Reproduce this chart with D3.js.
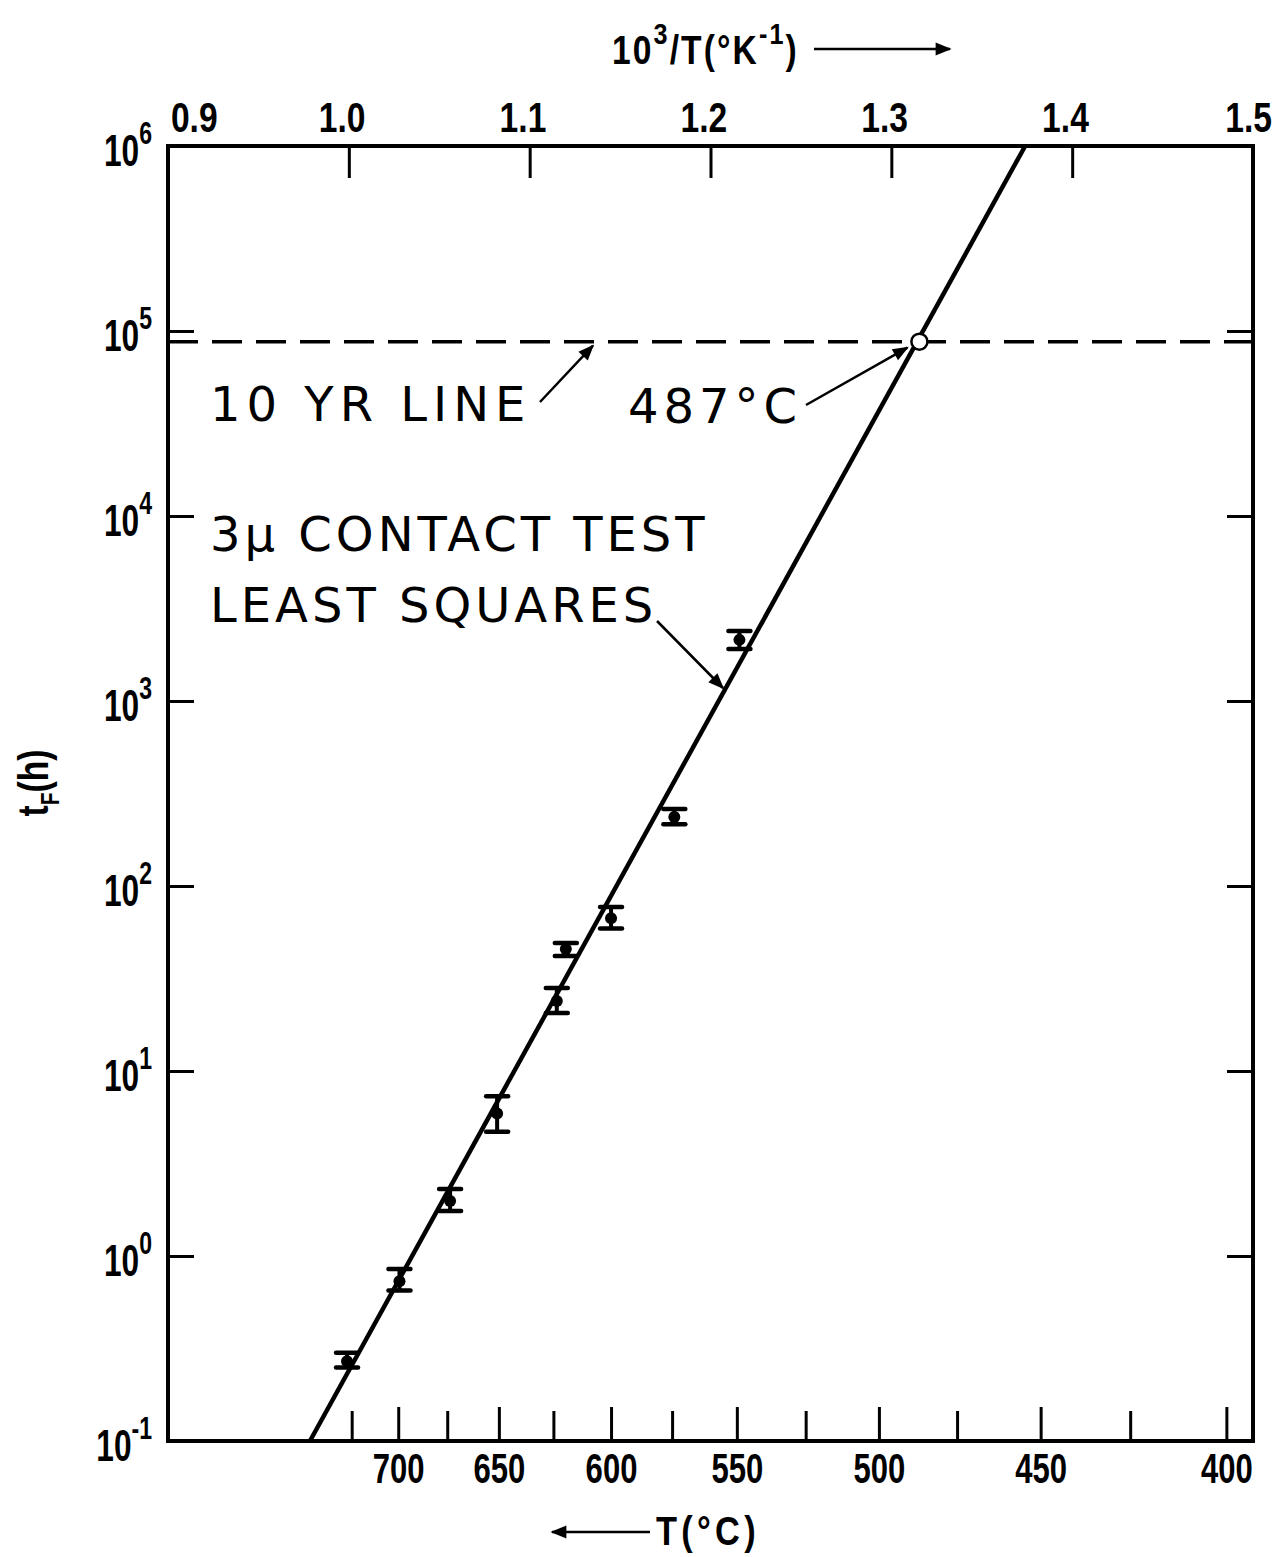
<!DOCTYPE html>
<html>
<head>
<meta charset="utf-8">
<script src="https://cdn.jsdelivr.net/npm/d3@7"></script>
<style>
  body { margin: 0; background: #fff; }
  svg { display: block; }
  .tick-lbl { font-family: "Liberation Sans", Arial, sans-serif; font-weight: bold; fill: #000; }
  .note { font-family: "DejaVu Sans", sans-serif; fill: #000; letter-spacing: 4px; }
</style>
</head>
<body>
<script>
const width = 1281;
const height = 1557;

// top axis: 10^3/T (K^-1)
const invTTicks = [0.9, 1.0, 1.1, 1.2, 1.3, 1.4, 1.5];
// bottom axis: T (°C)
const tempTicks = [725, 700, 675, 650, 625, 600, 575, 550, 525, 500, 475, 450, 425, 400];
const tempLabels = [700, 650, 600, 550, 500, 450, 400];
// left axis: t_F (h), decades
const decades = [-1, 0, 1, 2, 3, 4, 5, 6];

// measured points: 10^3/T, median time to failure, error bar low / high (h)
const pointInvT = [0.999, 1.028, 1.056, 1.082, 1.115, 1.120, 1.145, 1.180, 1.216];
const pointTime = [0.27, 0.73, 1.98, 5.9, 23.9, 45.6, 67, 236, 2140];
const pointLow = [0.25, 0.65, 1.75, 4.7, 20.6, 41.9, 59, 216, 1910];
const pointHigh = [0.30, 0.85, 2.30, 7.3, 28.1, 49.2, 77, 261, 2390];

// least squares line ends (10^3/T, hours)
const fitInvT = [0.9785, 1.374];
const fitTime = [0.1, 1e6];

// 10 year line and its crossing at 487 °C
const tenYearHours = 87600;
const crossTempC = 487;

const margin = { top: 146, bottom: 116, left: 168, right: 28 };

const svg = d3
  .select("body")
  .append("svg")
  .attr("width", width)
  .attr("height", height);

const defs = svg.append("defs");
defs
  .append("marker")
  .attr("id", "head")
  .attr("viewBox", "0 0 10 10")
  .attr("refX", 9)
  .attr("refY", 5)
  .attr("markerWidth", 22)
  .attr("markerHeight", 16)
  .attr("markerUnits", "userSpaceOnUse")
  .attr("orient", "auto")
  .append("path")
  .attr("d", "M0,1 L10,5 L0,9 Z")
  .attr("fill", "#000");

const x = d3
  .scaleLinear()
  .domain([0.9, 1.5])
  .range([margin.left, width - margin.right]);

const y = d3
  .scaleLog()
  .domain([0.1, 1e6])
  .range([height - margin.bottom, margin.top]);

const toInv = (c) => 1000 / (c + 273.15);

// frame
svg
  .append("rect")
  .attr("x", x(0.9))
  .attr("y", y(1e6))
  .attr("width", x(1.5) - x(0.9))
  .attr("height", y(0.1) - y(1e6))
  .attr("fill", "none")
  .attr("stroke", "#000")
  .attr("stroke-width", 4);

// top axis
const ejeTop = svg
  .append("g")
  .attr("transform", `translate(0, ${y(1e6)})`)
  .call(
    d3.axisTop(x).tickValues(invTTicks).tickSize(-32).tickPadding(14).tickFormat(d3.format(".1f"))
  );
ejeTop.select(".domain").remove();
ejeTop.selectAll("line").attr("stroke-width", 3);
ejeTop
  .selectAll("text")
  .attr("class", "tick-lbl")
  .attr("font-size", 42)
  .attr("transform", "scale(0.8,1)")
  .attr("text-anchor", (d) => (d === 0.9 ? "start" : "middle"))
  .attr("dx", (d) => (d === 0.9 ? 3 : d === 1.5 ? -6 : -9));
ejeTop.selectAll(".tick").filter((d) => d === 0.9 || d === 1.5).select("line").remove();

// bottom axis (°C, non-linear through 1/T)
const ejeBottom = svg.append("g").attr("transform", `translate(0, ${y(0.1)})`);
ejeBottom
  .selectAll("line")
  .data(tempTicks)
  .join("line")
  .attr("x1", (d) => x(toInv(d)))
  .attr("x2", (d) => x(toInv(d)))
  .attr("y1", 0)
  .attr("y2", (d) => (d % 50 === 0 ? -34 : -30))
  .attr("stroke", "#000")
  .attr("stroke-width", 3);
ejeBottom
  .selectAll("text")
  .data(tempLabels)
  .join("text")
  .attr("class", "tick-lbl")
  .attr("font-size", 42)
  .attr("text-anchor", "middle")
  .attr("transform", (d) => `translate(${x(toInv(d))}, 42) scale(0.74,1)`)
  .text((d) => d);

// left axis
const ejeLeft = svg
  .append("g")
  .attr("transform", `translate(${x(0.9)}, 0)`)
  .call(d3.axisLeft(y).tickValues(decades.map((e) => Math.pow(10, e))).tickSize(-26).tickFormat(""));
ejeLeft.select(".domain").remove();
ejeLeft.selectAll("line").attr("stroke-width", 3);

const yLbl = svg
  .append("g")
  .selectAll("text")
  .data(decades)
  .join("text")
  .attr("class", "tick-lbl")
  .attr("font-size", 44)
  .attr("text-anchor", "end")
  .attr("transform", (d) => `translate(152, ${y(Math.pow(10, d)) + 20}) scale(0.72,1)`);
yLbl.append("tspan").text("10");
yLbl
  .append("tspan")
  .attr("font-size", 32)
  .attr("dy", -22)
  .text((d) => (d < 0 ? "-" + -d : d));

// right axis
const ejeRight = svg
  .append("g")
  .attr("transform", `translate(${x(1.5)}, 0)`)
  .call(d3.axisRight(y).tickValues(decades.slice(1, -1).map((e) => Math.pow(10, e))).tickSize(-26).tickFormat(""));
ejeRight.select(".domain").remove();
ejeRight.selectAll("line").attr("stroke-width", 3);

// 10 year dashed line
svg
  .append("line")
  .attr("x1", x(0.9))
  .attr("x2", x(1.5))
  .attr("y1", y(tenYearHours))
  .attr("y2", y(tenYearHours))
  .attr("stroke", "#000")
  .attr("stroke-width", 3.5)
  .attr("stroke-dasharray", "30 14");

// least squares line
svg
  .append("line")
  .attr("x1", x(fitInvT[0]))
  .attr("y1", y(fitTime[0]))
  .attr("x2", x(fitInvT[1]))
  .attr("y2", y(fitTime[1]))
  .attr("stroke", "#000")
  .attr("stroke-width", 4.5);

// crossing point
svg
  .append("circle")
  .attr("cx", x(toInv(crossTempC)))
  .attr("cy", y(tenYearHours))
  .attr("r", 8)
  .attr("fill", "#fff")
  .attr("stroke", "#000")
  .attr("stroke-width", 2.5);

// data points with error bars
const puntos = d3.range(pointInvT.length).map((i) => ({
  inv: pointInvT[i],
  t: pointTime[i],
  lo: pointLow[i],
  hi: pointHigh[i],
}));

const grupo = svg
  .append("g")
  .selectAll("g")
  .data(puntos)
  .join("g")
  .attr("transform", (d) => `translate(${x(d.inv)}, 0)`);
grupo
  .append("line")
  .attr("y1", (d) => y(d.lo))
  .attr("y2", (d) => y(d.hi))
  .attr("stroke", "#000")
  .attr("stroke-width", 4);
grupo
  .selectAll(".cap")
  .data((d) => [d.lo, d.hi])
  .join("line")
  .attr("class", "cap")
  .attr("x1", -11)
  .attr("x2", 11)
  .attr("y1", (v) => y(v))
  .attr("y2", (v) => y(v))
  .attr("stroke", "#000")
  .attr("stroke-width", 4.5)
  .attr("stroke-linecap", "round");
grupo
  .append("circle")
  .attr("cy", (d) => y(d.t))
  .attr("r", 6)
  .attr("fill", "#000");

// annotations
function nota(txt, px, py, size, spacing) {
  svg
    .append("text")
    .attr("class", "note")
    .attr("x", px)
    .attr("y", py)
    .attr("font-size", size)
    .style("letter-spacing", spacing + "px")
    .text(txt);
}
function flecha(x1, y1, x2, y2) {
  svg
    .append("line")
    .attr("x1", x1)
    .attr("y1", y1)
    .attr("x2", x2)
    .attr("y2", y2)
    .attr("stroke", "#000")
    .attr("stroke-width", 2.5)
    .attr("marker-end", "url(#head)");
}

nota("10 YR LINE", 210, 421, 48, 6);
flecha(540, 402, x(1.135), y(tenYearHours) + 4);

nota("487\u00b0C", 628, 423, 48, 5);
flecha(806, 405, x(toInv(crossTempC)) - 12, y(tenYearHours) + 6);

nota("3\u03bc CONTACT TEST", 210, 551, 48, 4);
nota("LEAST SQUARES", 210, 622, 48, 4);
flecha(657, 621, 723, 688);

// axis titles
const titTop = svg
  .append("text")
  .attr("class", "tick-lbl")
  .attr("font-size", 40)
  .style("letter-spacing", "2.5px")
  .attr("transform", "translate(612, 64) scale(0.84,1)");
titTop.append("tspan").text("10");
titTop.append("tspan").attr("font-size", 30).attr("dy", -20).text("3");
titTop.append("tspan").attr("dy", 20).text("/T(\u00b0K");
titTop.append("tspan").attr("font-size", 30).attr("dy", -20).text("-1");
titTop.append("tspan").attr("dy", 20).text(")");
flecha(814, 49, 950, 49);

flecha(650, 1532, 552, 1532);
svg
  .append("text")
  .attr("class", "tick-lbl")
  .attr("font-size", 40)
  .style("letter-spacing", "5px")
  .attr("transform", "translate(656, 1545) scale(0.86,1)")
  .text("T(\u00b0C)");

const titY = svg
  .append("text")
  .attr("class", "tick-lbl")
  .attr("font-size", 42)
  .attr("transform", "translate(48, 783) rotate(-90) scale(0.8,1)")
  .attr("text-anchor", "middle");
titY.append("tspan").text("t");
titY.append("tspan").attr("font-size", 26).attr("dy", 11).text("F");
titY.append("tspan").attr("dy", -11).text("(h)");
</script>
</body>
</html>
